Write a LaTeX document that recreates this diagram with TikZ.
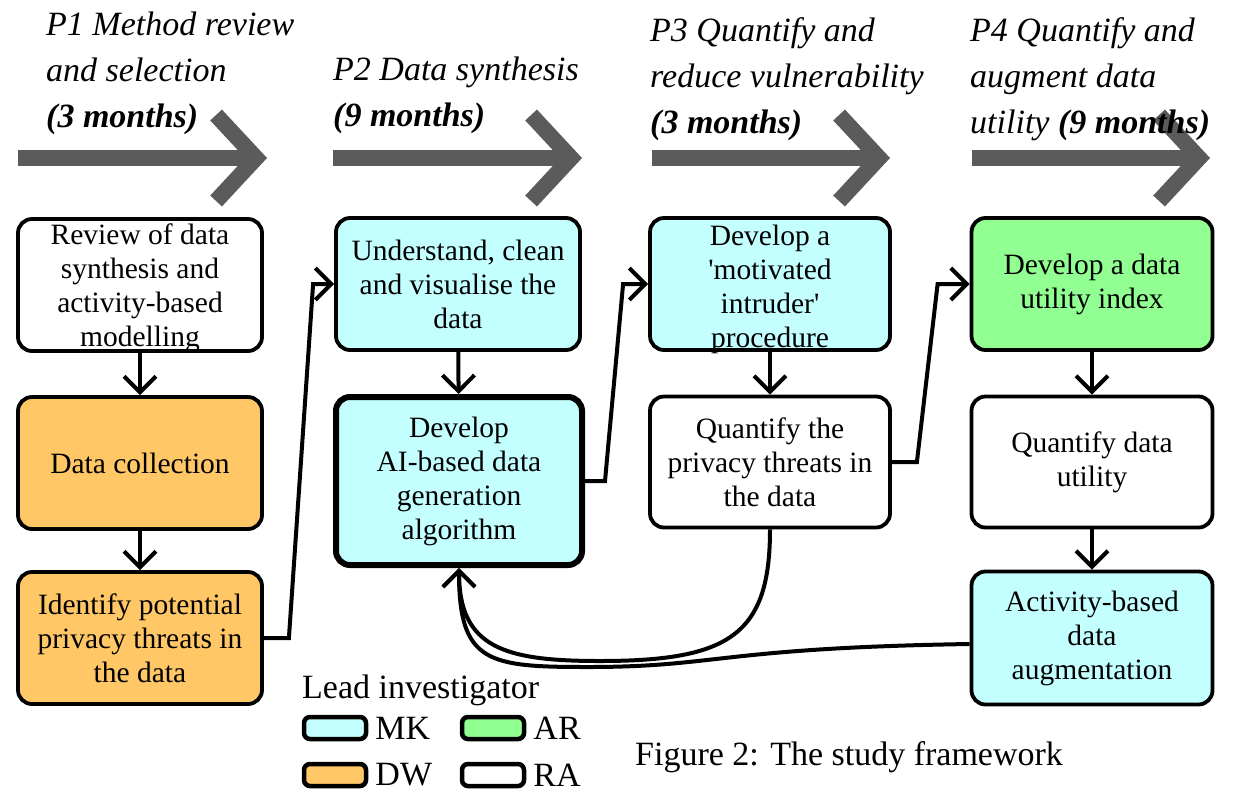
\documentclass[tikz,border=0pt]{standalone}
\usepackage{fontspec}
\setmainfont{Liberation Serif}
\usetikzlibrary{arrows.meta,positioning,calc}
\definecolor{LeadMK}{RGB}{196,255,255}
\definecolor{LeadDW}{RGB}{255,199,102}
\definecolor{LeadAR}{RGB}{146,255,146}
\definecolor{PhaseGrey}{RGB}{91,91,91}
\tikzset{
    % Base task box
    taskbox/.style={
        draw=black,
        fill=white,
        line width=3.8pt,
        rounded corners=14pt,
        align=center,
        inner sep=0pt,
        minimum width=244pt,
        minimum height=132pt,
        font=\fontsize{29.5}{34}\selectfont
    },
    % Lead investigator MK
    mkbox/.style={
        taskbox,
        fill=LeadMK
    },
    % Lead investigator DW
    dwbox/.style={
        taskbox,
        fill=LeadDW
    },
    % Lead investigator AR
    arbox/.style={
        taskbox,
        fill=LeadAR
    },
    % Flow arrow
    flowarrow/.style={
        -{Straight Barb[length=16pt,width=32pt]},
        line width=4pt,
        draw=black
    },
    % Phase arrow
    phasearrow/.style={
        -{Straight Barb[length=40pt,width=86pt]},
        line width=16pt,
        draw=PhaseGrey
    },
    % Phase title
    phasetitle/.style={
        anchor=north west,
        align=left,
        inner sep=0pt,
        font=\fontsize{34}{46}\selectfont\itshape
    },
    % Legend swatch
    swatch/.style={
        draw=black,
        line width=4.5pt,
        rounded corners=6pt,
        minimum width=62pt,
        minimum height=22pt,
        inner sep=0pt
    },
    % Legend text
    legendtext/.style={
        inner sep=0pt,
        font=\fontsize{34}{40}\selectfont
    }
}
\begin{document}
\begin{tikzpicture}[x=1pt, y=-1pt]
    \useasboundingbox (0,0) rectangle (1236,809);

    % phases
    \foreach \xa/\xb in {18/267, 333/582, 652/890, 972/1210}
        \draw[phasearrow] (\xa,158) -- (\xb,158);
    \node[phasetitle] (title1) at (46,12) {P1 Method review\\and selection\\\textbf{(3 months)}};
    \node[phasetitle] (title2) at (333,57) {P2 Data synthesis\\\textbf{(9 months)}};
    \node[phasetitle] (title3) at (650,17) {P3 Quantify and\\reduce vulnerability\\\textbf{(3 months)}};
    \node[phasetitle] (title4) at (970,17) {P4 Quantify and\\augment data\\utility \textbf{(9 months)}};

    % tasks
    \node[taskbox] (review) at (140,285) {Review of data\\synthesis and\\activity-based\\\smash{modelling}};
    \node[dwbox] (collect) at (140,463) {Data collection};
    \node[dwbox] (identify) at (140,638) {Identify potential\\privacy threats in\\the data};
    \node[mkbox] (understand) at (458,284) {Understand, clean\\and visualise the\\data};
    \node[mkbox, line width=6pt, minimum width=246pt, minimum height=168pt] (develop) at (459,481) {Develop\\AI-based data\\generation\\algorithm};
    \node[mkbox, minimum width=240pt] (intruder) at (770,284) {\rule{0pt}{24pt}Develop a\\\textquotesingle motivated\\intruder\textquotesingle\\\smash{procedure}};
    \node[taskbox, minimum width=240pt, minimum height=131pt] (privacy) at (770,462) {Quantify the\\privacy threats in\\the data};
    \node[arbox, minimum width=241pt] (index) at (1092,284) {Develop a data\\utility index};
    \node[taskbox, minimum width=241pt, minimum height=131pt] (utility) at (1092,462) {Quantify data\\utility};
    \node[mkbox, minimum width=241pt, minimum height=133pt] (augment) at (1092,638) {Activity-based\\data\\augmentation};

    % flow
    \draw[flowarrow] (review) -- (collect);
    \draw[flowarrow] (collect) -- (identify);
    \draw[flowarrow] (understand) -- (develop);
    \draw[flowarrow] (intruder) -- (privacy);
    \draw[flowarrow] (index) -- (utility);
    \draw[flowarrow] (utility) -- (augment);
    \draw[flowarrow] (identify.east) -- ++(25,0) -- ([xshift=-21pt]understand.west) -- (understand.west);
    \draw[flowarrow] (develop.east) -- ++(20,0) -- ([xshift=-25pt]intruder.west) -- (intruder.west);
    \draw[flowarrow] (privacy.east) -- ++(25,0) -- ([xshift=-32pt]index.west) -- (index.west);
    \draw[flowarrow] (privacy.south) .. controls +(0,105) and +(130,0) .. (600,661) .. controls +(-95,0) and +(0,80) .. (develop.south);
    \draw[flowarrow] ([yshift=-6pt]augment.west) .. controls +(-250,4) and +(130,0) .. (588,667) .. controls +(-100,0) and +(0,95) .. (develop.south);

    % legend
    \node[legendtext, anchor=west] (leadtitle) at (302,690) {Lead investigator};
    \node[swatch, fill=LeadMK] (swmk) at (335,728) {};
    \node[legendtext, right=7pt of swmk] (labmk) {MK};
    \node[swatch, fill=LeadAR] (swar) at (493,728) {};
    \node[legendtext, right=7pt of swar] (labar) {AR};
    \node[swatch, fill=LeadDW] (swdw) at (335,775) {};
    \node[legendtext, right=7pt of swdw] (labdw) {DW};
    \node[swatch, fill=white] (swra) at (493,775) {};
    \node[legendtext, right=7pt of swra] (labra) {RA};
    \node[legendtext, anchor=west] (caption) at (635,757) {Figure 2: The study framework};
\end{tikzpicture}
\end{document}
